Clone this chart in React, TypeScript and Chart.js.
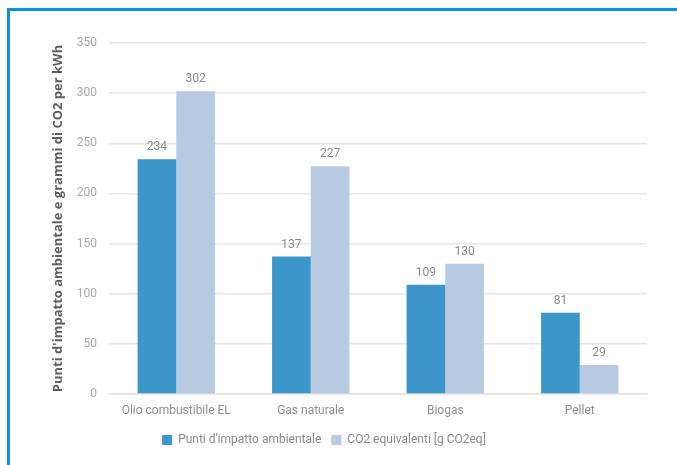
import React, { useEffect, useRef } from "react";
import { Chart, registerables } from "chart.js";

Chart.register(...registerables);

const categories = ["Olio combustibile EL", "Gas naturale", "Biogas", "Pellet"];
const puntiImpatto = [234, 137, 109, 81];
const co2Equivalenti = [302, 227, 130, 29];
const seriesNames = ["Punti d'impatto ambientale", "CO2 equivalenti [g CO2eq]"];
const yTitle = "Punti d'impatto ambientale e grammi di CO2 per kWh";

const FONT = "Roboto, 'Liberation Sans', sans-serif";
const TITLE_FONT = "'Open Sans', Roboto, sans-serif";

const valueLabels = {
  id: "valueLabels",
  afterDatasetsDraw(chart: any) {
    const ctx = chart.ctx;
    ctx.save();
    ctx.font = `12px ${FONT}`;
    ctx.fillStyle = "#8a8a8a";
    ctx.textAlign = "center";
    ctx.textBaseline = "alphabetic";
    chart.data.datasets.forEach((ds: any, i: number) => {
      const meta = chart.getDatasetMeta(i);
      meta.data.forEach((el: any, j: number) => {
        ctx.fillText(String(ds.data[j]), el.x, el.y - 9);
      });
    });
    ctx.restore();
  },
};

export default function App() {
  const ref = useRef<HTMLCanvasElement | null>(null);
  useEffect(() => {
    if (!ref.current) return;
    const chart = new Chart(ref.current, {
      type: "bar",
      data: {
        labels: categories,
        datasets: [
          {
            label: seriesNames[0],
            data: puntiImpatto,
            backgroundColor: "#3b96c9",
            categoryPercentage: 0.575,
            barPercentage: 1.0,
          },
          {
            label: seriesNames[1],
            data: co2Equivalenti,
            backgroundColor: "#b8cae1",
            categoryPercentage: 0.575,
            barPercentage: 1.0,
          },
        ],
      },
      options: {
        animation: false,
        responsive: false,
        maintainAspectRatio: false,
        layout: { padding: { left: 1, right: 30, top: 43, bottom: 9 } },
        plugins: {
          legend: {
            position: "bottom",
            labels: {
              boxWidth: 10,
              boxHeight: 10,
              color: "#8a8a8a",
              font: { family: FONT, size: 12 },
              padding: 10,
            },
          },
          tooltip: { enabled: false },
        },
        scales: {
          x: {
            grid: { display: false, drawTicks: false },
            border: { display: true, color: "#e2e2e2", width: 1.5 },
            ticks: {
              color: "#8e8e8e",
              font: { family: FONT, size: 12 },
              padding: 10,
            },
            afterFit(scale: any) {
              scale.height = 30;
            },
          },
          y: {
            min: 0,
            max: 350,
            ticks: {
              stepSize: 50,
              color: "#a8a8a8",
              font: { family: FONT, size: 12 },
              padding: 12,
            },
            grid: { color: "#e6e6e6", lineWidth: 1.5, drawTicks: false },
            border: { display: false },
            title: {
              display: true,
              text: yTitle,
              color: "#5e5e5e",
              font: { family: TITLE_FONT, size: 13, weight: "bold" },
              padding: { top: 49, bottom: 0 },
            },
            afterFit(scale: any) {
              scale.width = 108;
            },
          },
        },
      },
      plugins: [valueLabels],
    });
    return () => chart.destroy();
  }, []);

  return (
    <div style={{ position: "absolute", left: 0, top: 0, width: 677, height: 465, background: "#fff" }}>
      <div
        style={{
          position: "absolute",
          left: 7,
          top: 8,
          width: 670,
          height: 457,
          borderTop: "3px solid #0a96d2",
          borderLeft: "3px solid #0a96d2",
          boxSizing: "border-box",
        }}
      />
      <canvas ref={ref} width={677} height={465} style={{ position: "absolute", left: 0, top: 0 }} />
    </div>
  );
}
